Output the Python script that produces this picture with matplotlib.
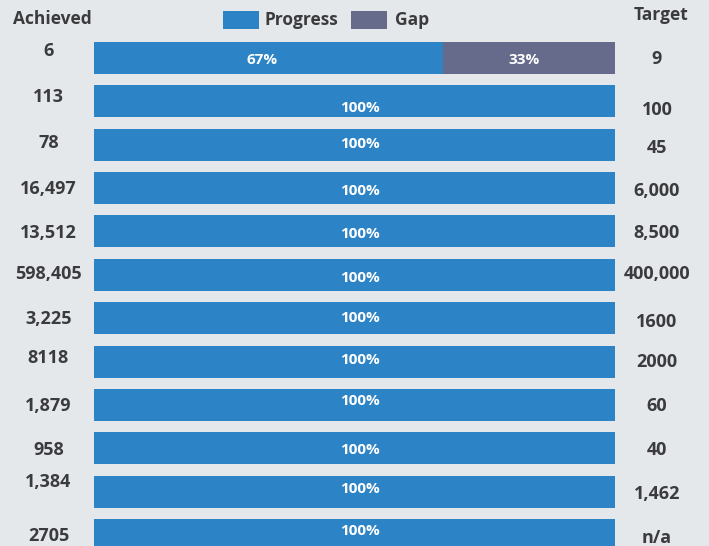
import matplotlib
matplotlib.use("Agg")
import matplotlib.pyplot as plt
from matplotlib.transforms import blended_transform_factory, offset_copy
from matplotlib.patches import Rectangle

achieved = ["6", "113", "78", "16,497", "13,512", "598,405", "3,225", "8118",
            "1,879", "958", "1,384", "2705"]
targets = ["9", "100", "45", "6,000", "8,500", "400,000", "1600", "2000",
           "60", "40", "1,462", "n/a"]
progress = [67, 100, 100, 100, 100, 100, 100, 100, 100, 100, 100, 100]
gap = [33, 0, 0, 0, 0, 0, 0, 0, 0, 0, 0, 0]

# layout tweaks (pixel offsets of label centres relative to bar centres)
left_off = [-8, -5.4, -3.2, -1, 0, -2, -1, -4.5, 0, 0, -10.6, 0]
right_off = [0, 7.6, 2.3, 1, 0.6, -2, 2, -0.5, 0, 0, 0.5, 2]
pct_off = [1, 5.6, -1.7, 1, 1.6, 2.2, -1.2, -2.5, -5, 0, -3.6, -5]

BG = "#e4e8eb"
BLUE = "#2c83c6"
GAPC = "#666a8b"
TXT = "#3b3b3d"
FONT = "Open Sans"
FS = 13       # numbers
HFS = 12.5    # headers / legend
PFS = 11      # percentages
CAP = 0.714   # cap height ratio of Open Sans

W, H = 709, 546
fig = plt.figure(figsize=(W / 100, H / 100), dpi=100, facecolor=BG)
pitch = 43.36
c0 = 58
x0, x1 = 94, 615
ax = fig.add_axes([x0 / W, 0, (x1 - x0) / W, 1])
ax.set_facecolor(BG)
ax.set_xlim(0, 100)
ax.set_ylim((H - c0) / pitch, -c0 / pitch)
ax.axis("off")

n = len(achieved)
rows = list(range(n))
bh = 32 / pitch
ax.barh(rows, progress, height=bh, color=BLUE, linewidth=0)
ax.barh(rows, gap, left=progress, height=bh, color=GAPC, linewidth=0)


def base_shift(fs):
    # pixels from visual centre of digits down to baseline
    return fs * 100 / 72 * CAP / 2


tr = blended_transform_factory(fig.transFigure, ax.transData)
for i in rows:
    yl = i + (left_off[i] + base_shift(FS)) / pitch
    yr = i + (right_off[i] + base_shift(FS)) / pitch
    yp = i + (pct_off[i] + base_shift(PFS)) / pitch
    ax.text(48.5 / W, yl, achieved[i], transform=tr,
            ha="center", va="baseline", fontsize=FS, fontweight="bold",
            color=TXT, family=FONT)
    ax.text(657 / W, yr, targets[i], transform=tr,
            ha="center", va="baseline", fontsize=FS, fontweight="bold",
            color=TXT, family=FONT)
    if gap[i] > 0:
        ax.text(progress[i] / 2 - 1.2, yp, f"{progress[i]}%",
                ha="center", va="baseline", fontsize=PFS, fontweight="bold",
                color="white", family=FONT)
        ax.text(progress[i] + gap[i] / 2 - 1.0, yp, f"{gap[i]}%",
                ha="center", va="baseline", fontsize=PFS, fontweight="bold",
                color="white", family=FONT)
    else:
        ax.text(progress[i] / 2 + 1, yp, f"{progress[i]}%",
                ha="center", va="baseline", fontsize=PFS, fontweight="bold",
                color="white", family=FONT)

fig.text(52 / W, 1 - 24 / H, "Achieved", ha="center", va="baseline",
         fontsize=HFS, fontweight="bold", color=TXT, family=FONT)
fig.text(661.5 / W, 1 - 20 / H, "Target", ha="center", va="baseline",
         fontsize=HFS, fontweight="bold", color=TXT, family=FONT)

# legend
fig.patches.append(Rectangle((223 / W, 1 - 29 / H), 36 / W, 18 / H,
                             transform=fig.transFigure, color=BLUE, lw=0))
fig.text(264 / W, 1 - 25 / H, "Progress", ha="left", va="baseline",
         fontsize=HFS, fontweight="bold", color=TXT, family=FONT)
fig.patches.append(Rectangle((351 / W, 1 - 29 / H), 36 / W, 18 / H,
                             transform=fig.transFigure, color=GAPC, lw=0))
fig.text(395 / W, 1 - 25 / H, "Gap", ha="left", va="baseline",
         fontsize=HFS, fontweight="bold", color=TXT, family=FONT)

fig.savefig("out.png", dpi=100, facecolor=BG)
